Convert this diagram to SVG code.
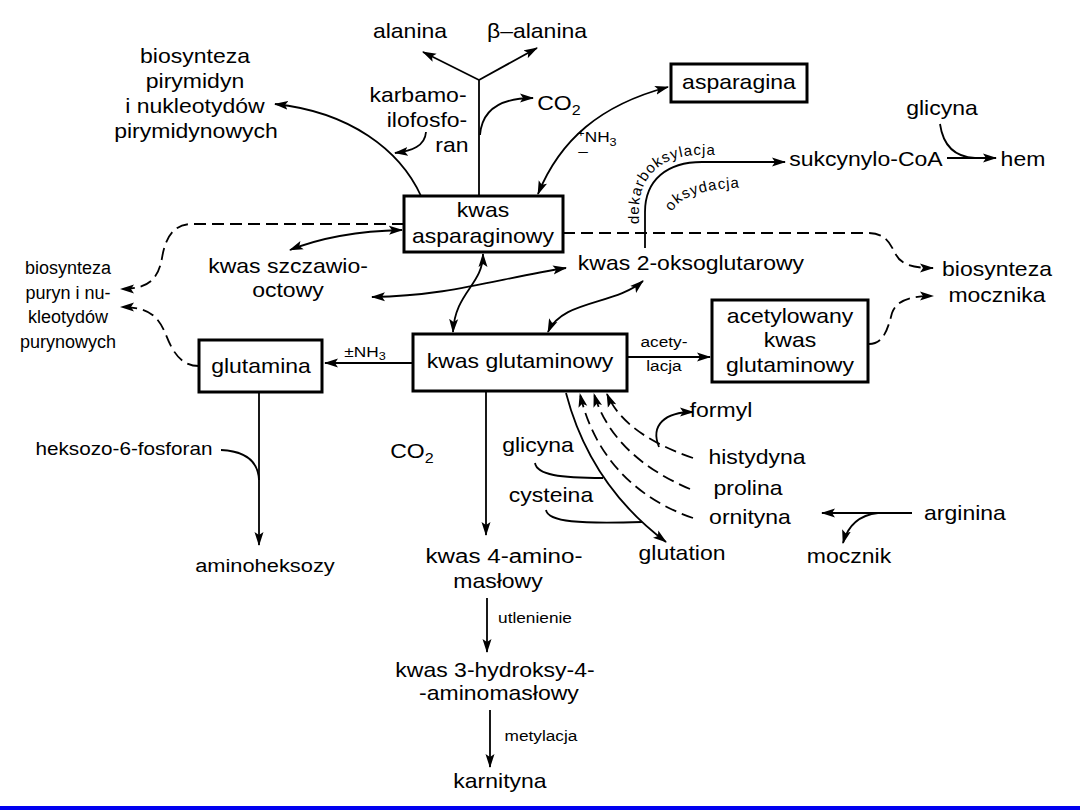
<svg xmlns="http://www.w3.org/2000/svg" width="1080" height="810" viewBox="0 0 1080 810">
<defs>
<marker id="ah" viewBox="0 0 14 10" refX="13" refY="5" markerWidth="14" markerHeight="10" markerUnits="userSpaceOnUse" orient="auto-start-reverse"><path d="M0,0.5 L14,5 L0,9.5 L3,5 z" fill="#000"/></marker>
<path id="pDek" d="M639,224 L639,210 C639,176 662,155 700,155 L745,155"/>
<path id="pOks" d="M672,212 C680,196 704,187 760,187"/>
</defs>
<style>
text { font-family: "Liberation Sans", Arial, sans-serif; fill:#000; text-anchor: middle; }
.t { font-size:20px; transform-box: fill-box; transform-origin: center; transform: scaleX(1.15); }
.s { font-size:15px; transform-box: fill-box; transform-origin: center; transform: scaleX(1.15); }
.pl { font-size:18px; }
.tp { font-size:15px; text-anchor:start; letter-spacing:1px; }
.ln { fill:none; stroke:#000; stroke-width:1.8; }
.ds { stroke-dasharray:12 6; }
.box { fill:#fff; stroke:#000; stroke-width:3; }
</style>
<rect width="1080" height="810" fill="#fff"/>

<g id="connectors">
  <path class="ln" d="M479,196 L479,80"/>
  <path class="ln" d="M479,80 L423,52" marker-end="url(#ah)"/>
  <path class="ln" d="M479,80 L537,48" marker-end="url(#ah)"/>
  <path class="ln" d="M480,135 C482,110 500,98 533,98" marker-end="url(#ah)"/>
  <path class="ln" d="M421,196 C400,150 350,112 275,104" marker-end="url(#ah)"/>
  <path class="ln" d="M426,132 C425,146 412,151 395,153" marker-end="url(#ah)"/>
  <path class="ln" d="M538,194 C560,140 600,105 668,87" marker-start="url(#ah)" marker-end="url(#ah)"/>
  <path class="ln" d="M645,248 L645,212 C645,180 667,162 702,162 L785,162" marker-end="url(#ah)"/>
  <path class="ln" d="M947,158 L996,158" marker-end="url(#ah)"/>
  <path class="ln" d="M940,124 C943,145 955,157 975,158"/>
  <path class="ln ds" d="M563,233 L868,233 C885,233 890,243 895,253 C901,265 912,268 933,268" marker-end="url(#ah)"/>
  <path class="ln ds" d="M869,344 C884,344 888,328 892,313 C897,300 910,296 933,296" marker-end="url(#ah)"/>
  <path class="ln ds" d="M404,224 L192,224 C172,224 165,240 162,258 C158,280 148,289 121,289" marker-end="url(#ah)"/>
  <path class="ln ds" d="M199,366 C180,366 172,350 166,335 C158,315 148,307 121,307" marker-end="url(#ah)"/>
  <path class="ln" d="M402,230 C360,231 320,238 290,250" marker-start="url(#ah)" marker-end="url(#ah)"/>
  <path class="ln" d="M372,297 C450,296 500,278 566,268" marker-start="url(#ah)" marker-end="url(#ah)"/>
  <path class="ln" d="M483,254 C483,285 455,292 453,332" marker-start="url(#ah)" marker-end="url(#ah)"/>
  <path class="ln" d="M548,332 C562,300 615,305 643,281" marker-start="url(#ah)" marker-end="url(#ah)"/>
  <path class="ln" d="M413,363 L325,363" marker-end="url(#ah)"/>
  <path class="ln" d="M628,357 L710,357" marker-end="url(#ah)"/>
  <path class="ln" d="M259,392 L259,545" marker-end="url(#ah)"/>
  <path class="ln" d="M221,450 C243,451 258,460 259,480"/>
  <path class="ln" d="M486,392 L486,535" marker-end="url(#ah)"/>
  <path class="ln" d="M487,598 L487,652" marker-end="url(#ah)"/>
  <path class="ln" d="M490,710 L490,767" marker-end="url(#ah)"/>
  <path class="ln" d="M566,393 Q590,485 666,542" marker-end="url(#ah)"/>
  <path class="ln" d="M535,463 C537,475 560,478 603,478"/>
  <path class="ln" d="M546,510 C548,522 580,524 642,522"/>
  <path class="ln ds" d="M693,518 C640,500 595,460 580,394" marker-end="url(#ah)"/>
  <path class="ln ds" d="M690,489 C645,470 608,440 594,394" marker-end="url(#ah)"/>
  <path class="ln ds" d="M693,458 C655,445 620,425 607,394" marker-end="url(#ah)"/>
  <path class="ln" d="M659,447 C650,425 665,412 693,412" marker-end="url(#ah)"/>
  <path class="ln" d="M912,513 L822,513" marker-end="url(#ah)"/>
  <path class="ln" d="M878,513 C860,515 848,525 843,543" marker-end="url(#ah)"/>
  <text class="tp"><textPath href="#pDek">dekarboksylacja</textPath><textPath href="#pOks">oksydacja</textPath></text>
  <text class="s" x="597" y="142"><tspan font-size="11" dy="-5">+</tspan><tspan dy="5">NH</tspan><tspan font-size="11" dy="4">3</tspan><tspan x="585" y="156">–</tspan></text>
  <text class="s" x="365" y="357">±NH<tspan font-size="11" dy="3">3</tspan></text>
  <text class="s" x="664" y="347">acety-</text>
  <text class="s" x="664" y="371">lacja</text>
  <text class="s" x="535" y="623">utlenienie</text>
  <text class="s" x="541" y="741">metylacja</text>
</g>

<g id="n-alanina"><text class="t" x="410" y="38">alanina</text></g>
<g id="n-balanina"><text class="t" x="537" y="38">β–alanina</text></g>
<g id="n-karbamoilofosforan">
  <text class="t" x="418" y="102">karbamo-</text>
  <text class="t" x="427" y="127">ilofosfo-</text>
  <text class="t" x="452" y="152">ran</text>
</g>
<g id="n-co2-top"><text class="t" x="559" y="110">CO<tspan font-size="14" dy="5">2</tspan></text></g>
<g id="n-pirymidyny">
  <text class="t" x="195" y="63">biosynteza</text>
  <text class="t" x="195" y="88">pirymidyn</text>
  <text class="t" x="195" y="113">i nukleotydów</text>
  <text class="t" x="196" y="138">pirymidynowych</text>
</g>
<g id="n-asparagina"><rect class="box" x="671" y="64" width="136" height="38"/><text class="t" x="739" y="89">asparagina</text></g>
<g id="n-glicyna-top"><text class="t" x="942" y="115">glicyna</text></g>
<g id="n-sukcynylo"><text class="t" x="866" y="166">sukcynylo-CoA</text></g>
<g id="n-hem"><text class="t" x="1023" y="166">hem</text></g>
<g id="n-asparaginowy"><rect class="box" x="404" y="196" width="159" height="56"/><text class="t" x="483" y="217">kwas</text><text class="t" x="483" y="243">asparaginowy</text></g>
<g id="n-puryny">
  <text class="pl" x="68" y="274">biosynteza</text>
  <text class="pl" x="68" y="299">puryn i nu-</text>
  <text class="pl" x="68" y="323">kleotydów</text>
  <text class="pl" x="68" y="348">purynowych</text>
</g>
<g id="n-szczawiooctowy"><text class="t" x="288" y="273">kwas szczawio-</text><text class="t" x="288" y="297">octowy</text></g>
<g id="n-oksoglutarowy"><text class="t" x="691" y="270">kwas 2-oksoglutarowy</text></g>
<g id="n-mocznika"><text class="t" x="997" y="276">biosynteza</text><text class="t" x="997" y="302">mocznika</text></g>
<g id="n-glutaminowy"><rect class="box" x="413" y="334" width="214" height="57"/><text class="t" x="520" y="368">kwas glutaminowy</text></g>
<g id="n-acetylowany"><rect class="box" x="712" y="300" width="156" height="82"/><text class="t" x="790" y="323">acetylowany</text><text class="t" x="790" y="347">kwas</text><text class="t" x="790" y="372">glutaminowy</text></g>
<g id="n-glutamina"><rect class="box" x="199" y="340" width="123" height="52"/><text class="t" x="261" y="373">glutamina</text></g>
<g id="n-heksozo"><text class="t" x="124" y="455" style="font-size:18px">heksozo-6-fosforan</text></g>
<g id="n-aminoheksozy"><text class="t" x="265" y="572" style="font-size:19px">aminoheksozy</text></g>
<g id="n-co2-bottom"><text class="t" x="412" y="458">CO<tspan font-size="14" dy="5">2</tspan></text></g>
<g id="n-4amino"><text class="t" x="504" y="563" style="font-size:21px">kwas 4-amino-</text><text class="t" x="498" y="588">masłowy</text></g>
<g id="n-3hydroksy"><text class="t" x="495" y="677">kwas 3-hydroksy-4-</text><text class="t" x="499" y="700">-aminomasłowy</text></g>
<g id="n-karnityna"><text class="t" x="500" y="788">karnityna</text></g>
<g id="n-glicyna"><text class="t" x="538" y="452">glicyna</text></g>
<g id="n-cysteina"><text class="t" x="551" y="502">cysteina</text></g>
<g id="n-glutation"><text class="t" x="682" y="560">glutation</text></g>
<g id="n-formyl"><text class="t" x="721" y="417">formyl</text></g>
<g id="n-histydyna"><text class="t" x="757" y="464">histydyna</text></g>
<g id="n-prolina"><text class="t" x="748" y="495">prolina</text></g>
<g id="n-ornityna"><text class="t" x="750" y="524">ornityna</text></g>
<g id="n-arginina"><text class="t" x="965" y="520">arginina</text></g>
<g id="n-mocznik"><text class="t" x="849" y="563">mocznik</text></g>
<rect x="0" y="806" width="1080" height="4" fill="#0000f0"/>
</svg>
